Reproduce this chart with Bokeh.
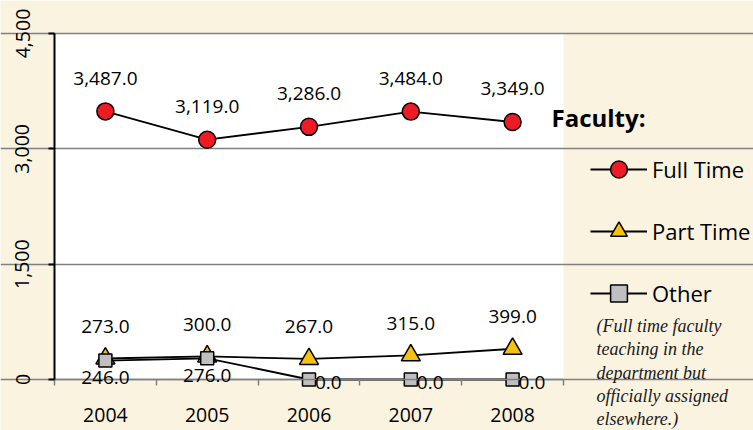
import numpy as np
from bokeh.plotting import figure
from bokeh.models import (ColumnDataSource, FixedTicker, NumeralTickFormatter, Range1d,
                          LabelSet, Label, Legend, LegendItem, LinearAxis, Grid, BoxAnnotation)
from bokeh.core.properties import value
from bokeh.embed import file_html
from bokeh.resources import INLINE

# ---- data ----
years = ["2004", "2005", "2006", "2007", "2008"]
full_time = [3487, 3119, 3286, 3484, 3349]
part_time = [273, 300, 267, 315, 399]
other = [246, 276, 0, 0, 0]
y_ticks = [0, 1500, 3000, 4500]
y_max = 4500
legend_title = "Faculty:"
series_names = ["Full Time", "Part Time", "Other"]
note_lines = ["(Full time faculty", "teaching in the", "department but",
              "officially assigned", "elsewhere.)"]

CREAM = "#FAF3E0"
FONT = "Open Sans"

W, H = 753, 430
# plot-area box in canvas pixels
PL, PR, PT, PB = 54, 563, 33, 379
n = len(years)
xpx = (PR - PL) / n
ypx = (PB - PT) / y_max

x = np.arange(n) + 0.5
fmt = lambda v: f"{v:,.1f}"

src_full = ColumnDataSource(dict(x=x, y=full_time, t=[fmt(v) for v in full_time]))
src_part = ColumnDataSource(dict(x=x, y=part_time, t=[fmt(v) for v in part_time]))
src_oth_below = ColumnDataSource(dict(x=x[:2], y=other[:2], t=[fmt(v) for v in other[:2]]))
src_oth_right = ColumnDataSource(dict(x=x[2:], y=other[2:], t=[fmt(v) for v in other[2:]]))
src_oth = ColumnDataSource(dict(x=x, y=other))

p = figure(width=W, height=H,
           x_range=Range1d(-PL / xpx, n + (W - PR) / xpx),
           y_range=Range1d(-(H - PB) / ypx, y_max + PT / ypx),
           x_axis_type=None, y_axis_type=None,
           output_backend="svg", toolbar_location=None,
           min_border=0, min_border_left=0, min_border_right=0,
           min_border_top=0, min_border_bottom=0,
           background_fill_color=CREAM, border_fill_color=CREAM, outline_line_color=None)

# white plot area
p.add_layout(BoxAnnotation(left=0, right=n, bottom=0, top=y_max, fill_color="white",
                           fill_alpha=1, line_color=None, level="image"))

# grid
p.add_layout(Grid(dimension=1, ticker=FixedTicker(ticks=y_ticks), bounds=(0, n),
                  grid_line_color="#808080", grid_line_width=1.5))

# axes
xaxis = LinearAxis(fixed_location=0, bounds=(0, n),
                   ticker=FixedTicker(ticks=list(x), minor_ticks=list(range(n + 1))))
xaxis.major_label_overrides = {float(xi): yr for xi, yr in zip(x, years)}
xaxis.axis_line_color = "#808080"
xaxis.axis_line_width = 1.5
xaxis.major_tick_in = 0
xaxis.major_tick_out = 0
xaxis.minor_tick_in = 0
xaxis.minor_tick_out = 6
xaxis.minor_tick_line_color = "#808080"
xaxis.minor_tick_line_width = 1.5
xaxis.major_label_standoff = 22

yaxis = LinearAxis(fixed_location=0, bounds=(0, y_max),
                   ticker=FixedTicker(ticks=y_ticks, minor_ticks=[]))
yaxis.formatter = NumeralTickFormatter(format="0,0")
yaxis.axis_line_color = "black"
yaxis.axis_line_width = 2
yaxis.major_tick_in = 0
yaxis.major_tick_out = 6
yaxis.major_tick_line_color = "black"
yaxis.major_tick_line_width = 2
yaxis.minor_tick_line_color = None
yaxis.major_label_orientation = "vertical"
yaxis.major_label_standoff = 19

for ax in (xaxis, yaxis):
    ax.major_label_text_font = FONT
    ax.major_label_text_font_size = "19.5px"
    ax.major_label_text_color = "black"

p.add_layout(xaxis, "below")
p.add_layout(yaxis, "left")

# series
l1 = p.line("x", "y", source=src_full, line_color="black", line_width=1.8)
s1 = p.scatter("x", "y", source=src_full, marker="circle", size=17,
               fill_color="#ED1C24", line_color="black", line_width=1.5)
l2 = p.line("x", "y", source=src_part, line_color="black", line_width=1.8)
s2 = p.scatter("x", "y", source=src_part, marker="triangle", size=19,
               fill_color="#F5C211", line_color="black", line_width=1.5)
l3 = p.line("x", "y", source=src_oth, line_color="black", line_width=1.8)
s3 = p.scatter("x", "y", source=src_oth, marker="square", size=13,
               fill_color="#BFBFBF", line_color="black", line_width=1.5)

lab_kw = dict(text_font=value(FONT), text_font_size=value("19px"), text_color="black")
p.add_layout(LabelSet(x="x", y="y", text="t", source=src_full, text_align="center",
                      text_baseline="middle", y_offset=33, **lab_kw))
p.add_layout(LabelSet(x="x", y="y", text="t", source=src_part, text_align="center",
                      text_baseline="middle", y_offset=32, **lab_kw))
p.add_layout(LabelSet(x="x", y="y", text="t", source=src_oth_below, text_align="center",
                      text_baseline="middle", y_offset=-17, **lab_kw))
p.add_layout(LabelSet(x="x", y="y", text="t", source=src_oth_right, text_align="left",
                      text_baseline="middle", x_offset=6, y_offset=-3, **lab_kw))

# legend
legend = Legend(items=[LegendItem(label=series_names[0], renderers=[l1, s1]),
                       LegendItem(label=series_names[1], renderers=[l2, s2]),
                       LegendItem(label=series_names[2], renderers=[l3, s3])],
                location=(590, 116), orientation="vertical",
                glyph_width=57, glyph_height=42, label_height=42, spacing=20,
                label_standoff=5, padding=0, margin=0,
                border_line_color=None, background_fill_alpha=0,
                label_text_font=FONT, label_text_font_size="22px", label_text_color="black")
p.add_layout(legend, "center")

p.add_layout(Label(x=551, y=H - 117, x_units="screen", y_units="screen", text=legend_title,
                   text_font=FONT, text_font_style="bold", text_font_size="24px",
                   text_baseline="middle", text_color="black"))

note_y = [325, 348, 372, 395, 418]
for ln, yy in zip(note_lines, note_y):
    p.add_layout(Label(x=596, y=H - yy, x_units="screen", y_units="screen", text=ln,
                       text_font="Liberation Serif", text_font_style="italic",
                       text_font_size="18px", text_baseline="middle", text_color="#1a1a1a"))

open("out.html", "w").write(file_html(p, INLINE))
